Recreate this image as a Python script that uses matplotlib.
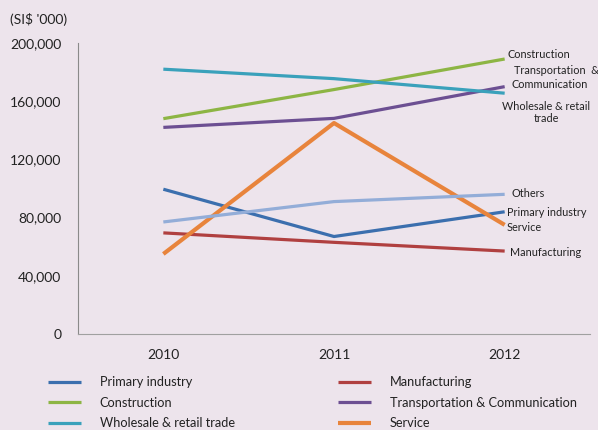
import matplotlib
matplotlib.use("Agg")
import matplotlib.pyplot as plt
from matplotlib.ticker import FuncFormatter

plt.rcParams['font.family'] = ['Lato', 'DejaVu Sans']

years = ["2010", "2011", "2012"]
primary = [99500, 67000, 84000]
manufacturing = [69500, 63000, 57000]
construction = [148000, 168000, 189000]
transport = [142000, 148200, 170000]
wholesale = [182000, 175500, 165500]
service = [55000, 145000, 75000]
others = [77000, 91000, 96000]

names = ["Primary industry", "Manufacturing", "Construction",
         "Transportation & Communication", "Wholesale & retail trade", "Service", "Others"]
series = [primary, manufacturing, construction, transport, wholesale, service, others]
colors = ["#3b6fae", "#b04040", "#8db544", "#6c4f92", "#3aa1bb", "#e8843c", "#93add8"]
widths = [2.3, 2.3, 2.3, 2.3, 2.3, 3.0, 2.3]

bg = "#ede4ec"
fig = plt.figure(figsize=(5.98, 4.30), dpi=100, facecolor=bg)
ax = fig.add_axes([78/598, 1-334/430, 512/598, 291/430], facecolor=bg)

x = list(range(len(years)))
handles = {}
for n, s, c, w in zip(names, series, colors, widths):
    h, = ax.plot(x, s, color=c, lw=w, solid_capstyle='butt', label=n)
    handles[n] = h

ax.set_xlim(-0.5, 2.5)
ax.set_ylim(0, 200000)
ax.set_yticks([0, 40000, 80000, 120000, 160000, 200000])
ax.yaxis.set_major_formatter(FuncFormatter(lambda v, p: f"{int(v):,}"))
ax.set_xticks(x)
ax.set_xticklabels(years)
ax.tick_params(axis='both', length=0, labelsize=10, colors="#222222")
ax.tick_params(axis='y', pad=12)
ax.tick_params(axis='x', pad=11)
for sp in ["top", "right"]:
    ax.spines[sp].set_visible(False)
ax.spines["left"].set_color("#8a8a8a")
ax.spines["bottom"].set_color("#a0a0a0")

fig.text(10/598, 1-20/430, "(SI$ '000)", fontsize=10, color="#222222", va='center', ha='left')

# end labels
lab_fs = 7.8
def lab(px, py, txt, ha='left'):
    fig.text(px/598, 1-py/430, txt, fontsize=lab_fs, color="#222222", ha=ha, va='center')
lab(507, 54, "Construction")
lab(514, 71, "Transportation  &")
lab(511, 84, "Communication")
lab(546.5, 106, "Wholesale & retail", ha='center')
lab(546.5, 119, "trade", ha='center')
lab(511, 193, "Others")
lab(507, 213, "Primary industry")
lab(507, 228, "Service")
lab(510, 252, "Manufacturing")

order = ["Primary industry", "Construction", "Wholesale & retail trade",
         "Manufacturing", "Transportation & Communication", "Service"]
common = dict(loc='upper left', frameon=False, fontsize=9.2, handlelength=2.55,
              handletextpad=1.5, labelspacing=0.68, borderaxespad=0, borderpad=0)
leg1 = fig.legend([handles[n] for n in order[:3]], order[:3],
                  bbox_to_anchor=(48/598, 1-376/430), **common)
leg2 = fig.legend([handles[n] for n in order[3:]], order[3:],
                  bbox_to_anchor=(338/598, 1-376/430), **common)
for leg in (leg1, leg2):
    for t in leg.get_texts():
        t.set_color("#222222")

fig.savefig("out.png", dpi=100, facecolor=bg)
